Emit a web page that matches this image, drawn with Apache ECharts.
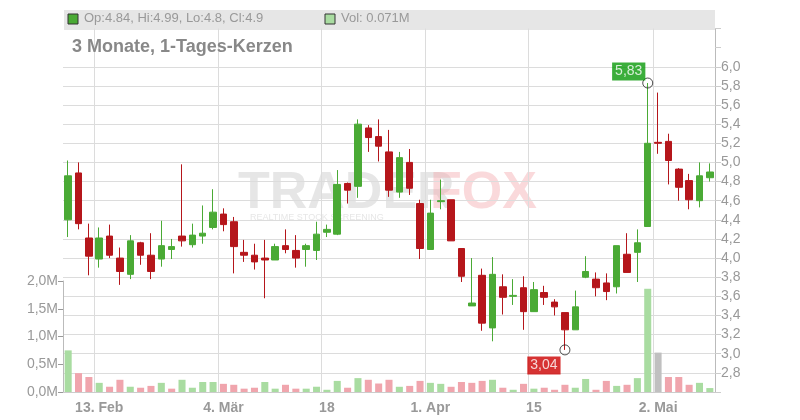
<!DOCTYPE html>
<html><head><meta charset="utf-8">
<script src="https://cdn.jsdelivr.net/npm/echarts@6/dist/echarts.min.js"></script>
<style>html,body{margin:0;padding:0;background:#fff}#c{width:800px;height:420px}</style>
</head><body><div id="c"></div>
<script>
// [open, close, low, high]
var opens  = [4.40,4.89,4.21,3.99,4.23,4.00,3.83,4.16,4.03,3.99,4.09,4.23,4.14,4.23,4.32,4.46,4.38,4.06,4.03,4.00,3.98,4.13,4.08,4.09,4.08,4.27,4.25,4.78,4.75,5.36,5.27,5.11,4.69,5.00,4.57,4.09,4.59,4.61,4.10,3.50,3.82,3.27,3.70,3.60,3.69,3.44,3.64,3.54,3.43,3.25,3.80,3.78,3.74,3.70,4.04,4.06,4.33,5.21,5.22,4.93,4.81,4.60,4.84];
var closes = [4.86,4.36,4.02,4.21,4.03,3.86,4.18,4.03,3.86,4.13,4.12,4.18,4.24,4.26,4.48,4.35,4.12,4.03,3.96,3.98,4.12,4.09,4.00,4.13,4.25,4.30,4.77,4.71,5.40,5.26,5.17,4.71,5.05,4.73,4.10,4.47,4.60,4.18,3.81,3.53,3.32,3.83,3.59,3.61,3.44,3.67,3.59,3.49,3.25,3.49,3.86,3.69,3.65,4.13,3.85,4.16,5.20,5.20,5.02,4.74,4.61,4.86,4.90];
var lows   = [4.22,4.30,3.82,3.90,4.00,3.72,3.78,3.93,3.78,3.91,3.99,4.12,4.11,4.15,4.30,4.28,3.84,3.96,3.88,3.58,3.98,4.05,3.90,3.91,3.98,4.22,4.24,4.57,4.63,5.11,5.01,4.64,4.63,4.66,3.99,4.09,4.51,4.18,3.75,3.50,3.24,3.13,3.41,3.51,3.25,3.44,3.51,3.40,3.04,3.25,3.79,3.60,3.56,3.63,3.85,3.75,4.33,5.09,4.77,4.60,4.51,4.53,4.80];
var highs  = [5.02,5.00,4.36,4.32,4.35,4.11,4.24,4.17,4.26,4.39,4.20,4.98,4.36,4.55,4.72,4.52,4.43,4.19,4.15,4.19,4.15,4.30,4.24,4.15,4.38,4.35,4.92,4.79,5.45,5.39,5.45,5.34,5.11,5.14,4.61,4.61,4.82,4.61,4.10,4.00,3.89,4.01,3.83,3.78,3.81,3.75,3.71,3.57,3.43,3.66,4.02,3.85,3.84,4.13,4.26,4.30,5.83,5.73,5.30,4.94,4.88,5.00,4.99];
var volumes = [0.75,0.34,0.27,0.165,0.095,0.22,0.095,0.077,0.11,0.165,0.06,0.22,0.077,0.18,0.18,0.147,0.13,0.06,0.077,0.18,0.06,0.13,0.06,0.06,0.095,0.04,0.2,0.077,0.25,0.22,0.153,0.22,0.094,0.11,0.2,0.165,0.147,0.094,0.18,0.165,0.2,0.22,0.077,0.04,0.147,0.06,0.077,0.04,0.13,0.077,0.235,0.04,0.2,0.11,0.13,0.25,1.86,0.71,0.27,0.27,0.13,0.165,0.071];
var tickLabels = {3:'13. Feb',15:'4. Mär',25:'18',35:'1. Apr',45:'15',57:'2. Mai'};
var priceTicks = [2.8,6.0];
var volumeTicks = [0,2.0];
var extremes = [[56,5.83,'5,83','#0a9a0a'],[48,3.04,'3,04','#cc0000']];

var cats = opens.map(function(_,i){return String(i);});
var ohlc = opens.map(function(o,i){return [o,closes[i],lows[i],highs[i]];});
var volData = volumes.map(function(v,i){
  var c = '#c0c0c0';
  if(i===0 || closes[i]>closes[i-1]) c='#a9dca1';
  else if(closes[i]<closes[i-1]) c='#f0a5ad';
  return {value:v,itemStyle:{color:c}};
});
var gridColors=[];
for(var k=0;k<=19;k++){var v=2.6+k*0.2; gridColors.push(v>2.7&&v<6.05?'#dcdcdc':'rgba(0,0,0,0)');}
var lab = {color:'#999',fontSize:14,fontFamily:'Liberation Sans, Arial, sans-serif'};
var chart = echarts.init(document.getElementById('c'));
chart.setOption({
  animation:false,
  grid:[{left:63,right:85,top:28.5,bottom:28},{left:63,right:85,top:281,bottom:28}],
  graphic:[
    {type:'rect',z:-10,shape:{x:64,y:10,width:651,height:20},style:{fill:'#e6e6e6'}},
    {type:'rect',z:5,shape:{x:68,y:14,width:10,height:10},style:{fill:'#4aaa35',stroke:'#333',lineWidth:1}},
    {type:'text',z:5,left:84,top:12,style:{text:'Op:4.84, Hi:4.99, Lo:4.8, Cl:4.9',fill:'#999',fontSize:13,fontFamily:'Liberation Sans, Arial'}},
    {type:'rect',z:5,shape:{x:325,y:14,width:10,height:10},style:{fill:'#a9dca1',stroke:'#333',lineWidth:1}},
    {type:'text',z:5,left:341,top:12,style:{text:'Vol: 0.071M',fill:'#999',fontSize:13,fontFamily:'Liberation Sans, Arial'}},
    {type:'text',z:5,left:72,top:38,style:{text:'3 Monate, 1-Tages-Kerzen',fill:'#888',fontSize:18,fontWeight:'bold',fontFamily:'Liberation Sans, Arial'}},
    {type:'text',z:-5,left:238,top:168,style:{text:'TRADER',fill:'rgba(200,200,200,0.45)',fontSize:52,fontWeight:'bold',fontFamily:'Liberation Sans, Arial'}},
    {type:'text',z:-5,left:430,top:168,style:{text:'FOX',fill:'rgba(245,170,175,0.45)',fontSize:52,fontWeight:'bold',fontFamily:'Liberation Sans, Arial'}},
    {type:'text',z:-5,left:250,top:213,style:{text:'REALTIME STOCK SCREENING',fill:'rgba(200,200,200,0.45)',fontSize:9,fontFamily:'Liberation Sans, Arial'}}
  ],
  xAxis:[{type:'category',data:cats,gridIndex:0,boundaryGap:true,
      axisLine:{lineStyle:{color:'#ccc'}},
      axisTick:{alignWithLabel:true,interval:function(i){return tickLabels[i]!==undefined;},lineStyle:{color:'#999'}},
      axisLabel:Object.assign({interval:function(i){return tickLabels[i]!==undefined;},formatter:function(v,i){return tickLabels[i]||'';},fontWeight:'bold',margin:9},lab),
      splitLine:{show:true,interval:function(i){return tickLabels[i]!==undefined;},lineStyle:{color:'#dcdcdc'}}},
    {type:'category',data:cats,gridIndex:1,boundaryGap:true,show:false}],
  yAxis:[{type:'value',gridIndex:0,position:'right',min:2.6,max:6.4,interval:0.2,
      axisLine:{show:true,lineStyle:{color:'#bbb'}},axisTick:{show:true,length:6,lineStyle:{color:gridColors.map(function(c){return c==='#dcdcdc'?'#999':c;})}},
      axisLabel:Object.assign({formatter:function(v){return (v<priceTicks[0]-0.01||v>priceTicks[1]+0.01)?'':v.toFixed(1).replace('.',',');},margin:6},lab),
      splitLine:{lineStyle:{color:gridColors}}},
    {type:'value',gridIndex:1,position:'left',min:volumeTicks[0],max:volumeTicks[1],interval:0.5,
      axisLine:{show:true,lineStyle:{color:'#bbb'}},axisTick:{show:true,length:5,lineStyle:{color:'#999'}},
      axisLabel:Object.assign({formatter:function(v){return v.toFixed(1).replace('.',',')+'M';},margin:5},lab),
      splitLine:{show:false}}],
  series:[
    {type:'bar',xAxisIndex:1,yAxisIndex:1,data:volData,barWidth:'68%',z:1},
    {type:'candlestick',xAxisIndex:0,yAxisIndex:0,data:ohlc,barWidth:'68%',z:3,
      itemStyle:{color:'#4aaa35',color0:'#b5161b',borderColor:'#4aaa35',borderColor0:'#b5161b',borderWidth:1}},
    {type:'scatter',xAxisIndex:0,yAxisIndex:0,z:4,symbol:'circle',symbolSize:10,
      itemStyle:{color:'rgba(255,255,255,0)',borderColor:'#222',borderWidth:1},
      data:extremes.map(function(e,j){return {value:[e[0],e[1]],label:{show:true,formatter:e[2],position:j===0?'top':'bottom',
        offset:j===0?[-19,8]:[-21,-4],backgroundColor:e[3],color:'#fff',fontSize:14,padding:[2,3],fontFamily:'Liberation Sans, Arial'}};})}
  ]
});
</script></body></html>
